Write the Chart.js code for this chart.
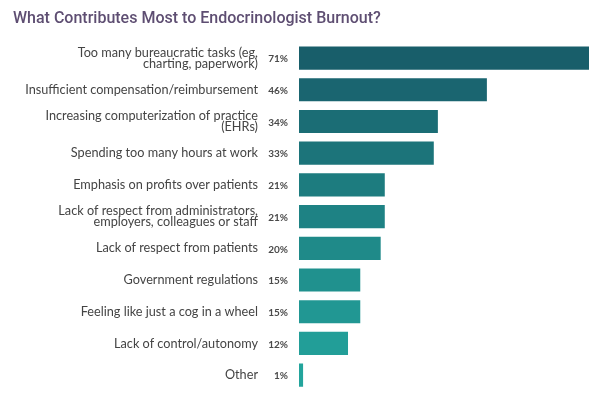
<!DOCTYPE html>
<html>
<head>
<meta charset="utf-8">
<script src="https://cdn.jsdelivr.net/npm/chart.js@4"></script>
<style>
html,body{margin:0;padding:0;background:#fff;}
#wrap{width:600px;height:408px;}
</style>
</head>
<body>
<div id="wrap"><canvas id="c" width="600" height="408"></canvas></div>
<script>
const categories = [
  ["Too many bureaucratic tasks (eg,", "charting, paperwork)"],
  "Insufficient compensation/reimbursement",
  ["Increasing computerization of practice", "(EHRs)"],
  "Spending too many hours at work",
  "Emphasis on profits over patients",
  ["Lack of respect from administrators,", "employers, colleagues or staff"],
  "Lack of respect from patients",
  "Government regulations",
  "Feeling like just a cog in a wheel",
  "Lack of control/autonomy",
  "Other"
];
const values = [71, 46, 34, 33, 21, 21, 20, 15, 15, 12, 1];
const titleText = "What Contributes Most to Endocrinologist Burnout?";
const barColors = ["#185e6a","#1a6570","#1b6d75","#1c747a","#1d7c7f","#1e8284","#1f8a89","#20918e","#219793","#229e98","#23a49c"];

const pctLabels = {
  id: 'pctLabels',
  afterDatasetsDraw(chart) {
    const ctx = chart.ctx;
    const meta = chart.getDatasetMeta(0);
    ctx.save();
    ctx.font = "bold 10px Lato";
    ctx.fillStyle = "#4a4a4a";
    ctx.textAlign = "right";
    ctx.textBaseline = "middle";
    meta.data.forEach((bar, i) => {
      ctx.fillText(values[i] + "%", chart.chartArea.left - 11, bar.y + 1);
    });
    ctx.restore();
  }
};

new Chart(document.getElementById('c'), {
  type: 'bar',
  data: {
    labels: categories,
    datasets: [{
      data: values,
      backgroundColor: barColors,
      borderWidth: 0,
      barPercentage: 0.73,
      categoryPercentage: 1.0
    }]
  },
  options: {
    indexAxis: 'y',
    responsive: false,
    animation: false,
    layout: { padding: { left: 13, right: 11, top: 0, bottom: 17 } },
    plugins: {
      legend: { display: false },
      tooltip: { enabled: false },
      title: {
        display: true,
        text: titleText,
        align: 'start',
        color: '#5e4e72',
        font: { family: 'Roboto', size: 16, weight: '500', lineHeight: 1.2 },
        padding: { top: 9, bottom: 14 }
      }
    },
    scales: {
      x: { display: false, min: 0, max: 71 },
      y: {
        grid: { display: false, drawTicks: false },
        border: { display: false },
        afterFit: s => { s.width = 286; s.paddingTop = 0; s.paddingBottom = 0; },
        ticks: {
          padding: 41,
          color: '#444',
          font: { family: 'Lato', size: 12.7, lineHeight: 0.87 }
        }
      }
    }
  },
  plugins: [pctLabels]
});
</script>
</body>
</html>
